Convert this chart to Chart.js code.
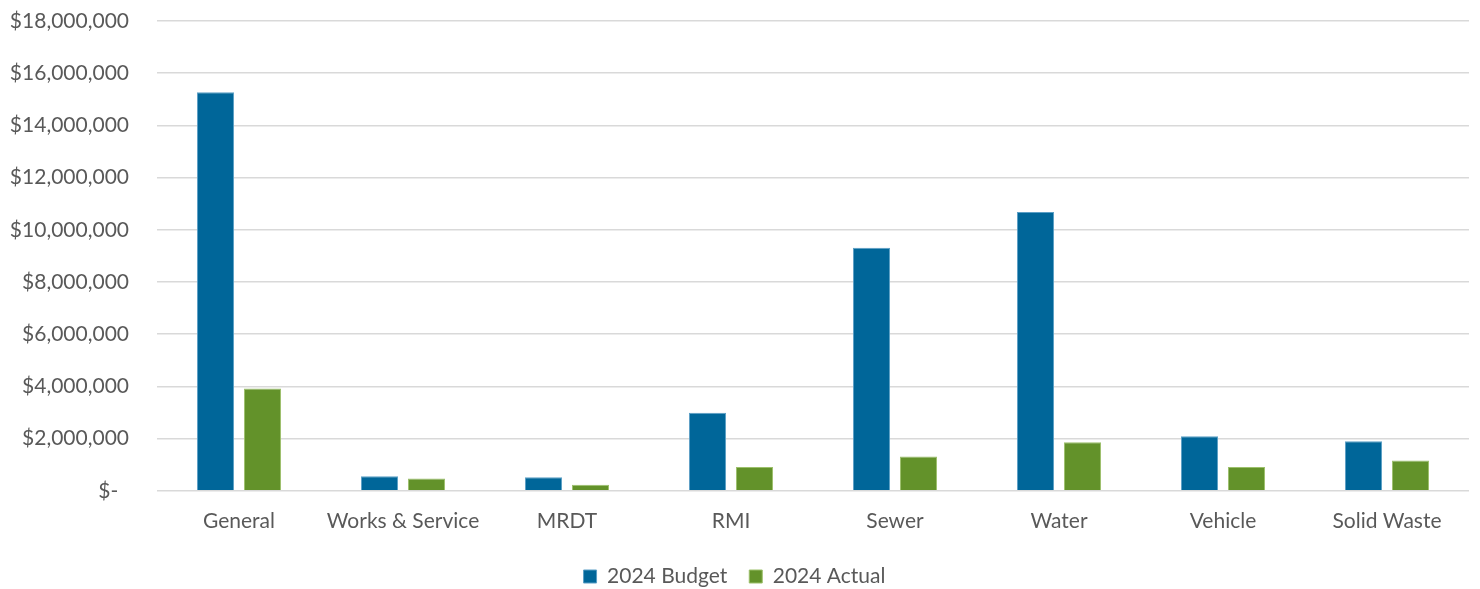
<!DOCTYPE html>
<html>
<head>
<meta charset="utf-8">
<script src="https://cdn.jsdelivr.net/npm/chart.js@4.4.1/dist/chart.umd.min.js"></script>
<style>
  html, body { margin: 0; padding: 0; background: #fff; }
  #wrap { width: 1480px; height: 589px; position: relative; }
</style>
</head>
<body>
<div id="wrap"><canvas id="myChart"></canvas></div>
<script>
// fund categories and values
const categories = ['General', 'Works & Service', 'MRDT', 'RMI', 'Sewer', 'Water', 'Vehicle', 'Solid Waste'];
const budget2024 = [15270000, 560000, 520000, 2990000, 9310000, 10680000, 2090000, 1900000];
const actual2024 = [3920000, 470000, 230000, 910000, 1310000, 1860000, 910000, 1160000];

const textColor = '#595959';
const font = { family: 'Lato, "Open Sans", sans-serif', size: 21 };

function money(v) {
    if (v === 0) return '$-  ';
    return '$' + v.toLocaleString('en-US');
}

const ctx = document.getElementById('myChart');

const myChart = new Chart(ctx, {
    type: 'bar',
    data: {
        labels: categories,
        datasets: [
            {
                label: '2024 Budget',
                data: budget2024,
                backgroundColor: '#006699',
                borderColor: '#5b9fc6',
                borderWidth: 1,
            },
            {
                label: '2024 Actual',
                data: actual2024,
                backgroundColor: '#63922a',
                borderColor: '#9cc06b',
                borderWidth: 1,
            }
        ]
    },
    options: {
        responsive: true,
        maintainAspectRatio: false,
        animation: false,
        categoryPercentage: 0.573,
        barPercentage: 0.79,
        layout: { padding: { top: 0, right: 11, left: 0, bottom: -8 } },
        scales: {
            x: {
                grid: { display: false },
                border: { display: false },
                ticks: { color: textColor, font: font, padding: 10, maxRotation: 0 }
            },
            y: {
                min: 0,
                max: 18000000,
                afterFit: function (scale) {
                    scale.width = 157;
                    scale.paddingTop = 21;
                    scale.paddingBottom = 12;
                },
                grid: { color: '#d9d9d9', lineWidth: 1.5, drawTicks: false },
                border: { display: false },
                ticks: {
                    stepSize: 2000000,
                    color: textColor,
                    font: font,
                    padding: 28,
                    callback: money
                }
            }
        },
        plugins: {
            legend: {
                position: 'bottom',
                labels: {
                    color: textColor,
                    font: font,
                    boxWidth: 13,
                    boxHeight: 13,
                    padding: 22
                }
            },
            tooltip: { enabled: false }
        }
    }
});
</script>
</body>
</html>
